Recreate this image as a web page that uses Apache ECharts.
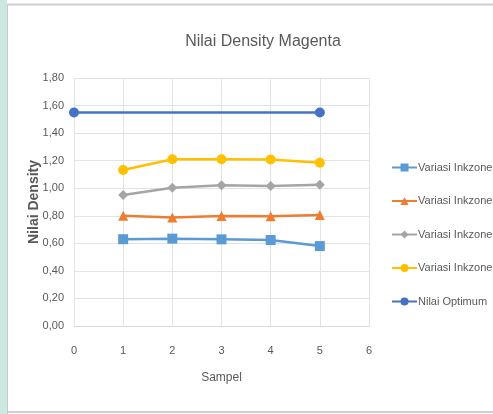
<!DOCTYPE html>
<html>
<head>
<meta charset="utf-8">
<script src="https://cdn.jsdelivr.net/npm/echarts@6/dist/echarts.min.js"></script>
<style>
  html, body { margin: 0; padding: 0; background: #ffffff; }
  #chart { width: 493px; height: 414px; }
</style>
</head>
<body>
<div id="chart"></div>
<script>
// Sample numbers along the x axis
const sampel = [1, 2, 3, 4, 5];

// Density readings per ink zone variation
const inkzone1 = [0.63, 0.634, 0.629, 0.624, 0.58];
const inkzone2 = [0.80, 0.787, 0.798, 0.797, 0.805];
const inkzone3 = [0.951, 1.004, 1.022, 1.016, 1.025];
const inkzone4 = [1.132, 1.21, 1.21, 1.208, 1.185];

// Target (optimum) density line
const optimumX = [0, 5];
const optimum = [1.55, 1.55];

const seriesNames = ['Variasi Inkzone 1', 'Variasi Inkzone 2', 'Variasi Inkzone 3', 'Variasi Inkzone 4', 'Nilai Optimum'];

const FONT = '"Liberation Sans", Arial, sans-serif';
const TEXT = '#595959';

function pairs(xs, ys) {
  return xs.map((x, i) => [x, ys[i]]);
}

function lineSeries(name, xs, ys, color, symbol, size) {
  return {
    name: name,
    type: 'line',
    data: pairs(xs, ys),
    symbol: symbol,
    symbolSize: size,
    lineStyle: { color: color, width: 2.5 },
    itemStyle: { color: color },
    emphasis: { disabled: true },
    z: 3
  };
}

const chart = echarts.init(document.getElementById('chart'), null, { renderer: 'canvas' });

chart.setOption({
  animation: false,
  backgroundColor: '#ffffff',
  textStyle: { fontFamily: FONT },
  title: {
    text: 'Nilai Density Magenta',
    left: 258,
    textAlign: 'center',
    top: 29,
    textStyle: { fontFamily: FONT, fontSize: 16, fontWeight: 'normal', color: TEXT }
  },
  grid: { left: 74, right: 124, top: 78, bottom: 88, containLabel: false },
  xAxis: {
    type: 'value',
    min: 0, max: 6, interval: 1,
    name: 'Sampel',
    nameLocation: 'middle',
    nameGap: 46,
    nameTextStyle: { fontFamily: FONT, fontSize: 12, color: TEXT },
    axisLine: { show: true, lineStyle: { color: '#d9d9d9', width: 1 } },
    axisTick: { show: false },
    axisLabel: { fontFamily: FONT, fontSize: 11, color: TEXT, margin: 19 },
    splitLine: { show: true, lineStyle: { color: '#e3e3e3', width: 1 } }
  },
  yAxis: {
    type: 'value',
    min: 0, max: 1.8, interval: 0.2,
    name: 'Nilai Density',
    nameLocation: 'middle',
    nameGap: 33,
    nameMoveOverlap: false,
    nameTextStyle: { fontFamily: FONT, fontSize: 14, fontWeight: 'bold', color: TEXT },
    axisLine: { show: false },
    axisTick: { show: false },
    axisLabel: {
      fontFamily: FONT, fontSize: 11, color: TEXT, margin: 10,
      formatter: v => v.toFixed(2).replace('.', ',')
    },
    splitLine: { show: true, lineStyle: { color: '#e3e3e3', width: 1 } }
  },
  legend: {
    orient: 'vertical',
    left: 391,
    top: 162,
    padding: 0,
    itemWidth: 25,
    itemHeight: 10,
    itemGap: 22.5,
    data: seriesNames,
    textStyle: { fontFamily: FONT, fontSize: 11, color: TEXT, padding: [0, 0, 0, -4] }
  },
  graphic: [
    { type: 'rect', shape: { x: 0, y: 0, width: 7, height: 414 }, style: { fill: '#cde8e1' }, silent: true },
    { type: 'line', shape: { x1: 7.5, y1: 4, x2: 7.5, y2: 414 }, style: { stroke: '#c8c8c8', lineWidth: 1 }, silent: true },
    { type: 'line', shape: { x1: 7, y1: 4.5, x2: 493, y2: 4.5 }, style: { stroke: '#cfcfcf', lineWidth: 2 }, silent: true },
    { type: 'line', shape: { x1: 7, y1: 412, x2: 493, y2: 412 }, style: { stroke: '#cfcfcf', lineWidth: 2 }, silent: true }
  ],
  series: [
    lineSeries(seriesNames[0], sampel, inkzone1, '#5b9bd5', 'rect', 10),
    lineSeries(seriesNames[1], sampel, inkzone2, '#ed7d31', 'triangle', 10),
    lineSeries(seriesNames[2], sampel, inkzone3, '#a5a5a5', 'diamond', 10),
    lineSeries(seriesNames[3], sampel, inkzone4, '#ffc000', 'circle', 10),
    lineSeries(seriesNames[4], optimumX, optimum, '#4472c4', 'circle', 10)
  ]
});
</script>
</body>
</html>
